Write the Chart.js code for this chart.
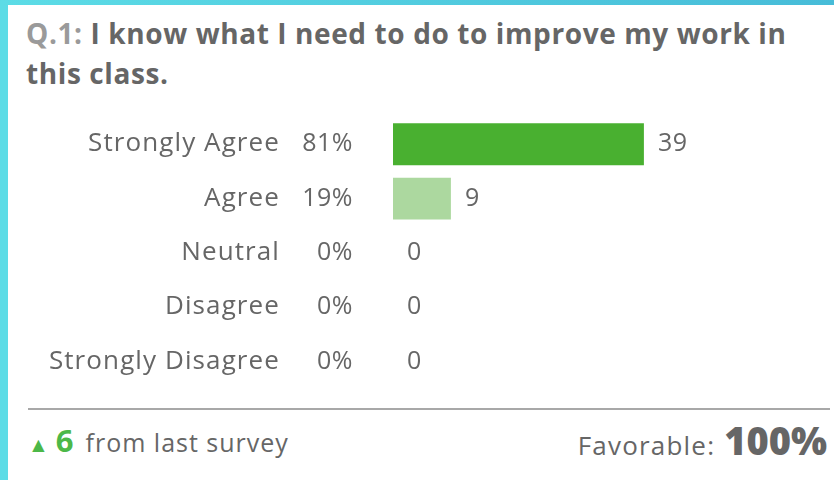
<!DOCTYPE html>
<html>
<head>
<meta charset="utf-8">
<script src="https://cdn.jsdelivr.net/npm/chart.js@4.4.1/dist/chart.umd.min.js"></script>
<style>
    html, body {
        margin: 0;
        padding: 0;
    }
    body {
        width: 834px;
        height: 480px;
        position: relative;
        overflow: hidden;
        background: #fff;
        font-family: "Open Sans", Lato, sans-serif;
    }
    .edge-left {
        position: absolute;
        left: 0; top: 0;
        width: 8px; height: 480px;
        background: #5cdce6;
    }
    .edge-top {
        position: absolute;
        left: 0; top: 0;
        width: 834px; height: 5px;
        background: linear-gradient(to right, #5cdce6, #47bcd8);
    }
    .title {
        position: absolute;
        left: 26px; top: 13px;
        white-space: nowrap;
        font-size: 28px;
        line-height: 40px;
        font-weight: 700;
        color: #666;
        letter-spacing: 0.6px;
    }
    .title .qnum {
        color: #9a9a9a;
    }
    #chartBox {
        position: absolute;
        left: 0; top: 110px;
        width: 834px; height: 290px;
    }
    .divider {
        position: absolute;
        left: 28px; top: 408px;
        width: 802px; height: 2px;
        background: #a8a8a8;
    }
    .footer {
        position: absolute;
        top: 420px;
        display: flex;
        align-items: baseline;
        color: #666;
        font-size: 25px;
        line-height: 40px;
        letter-spacing: 1px;
        white-space: nowrap;
    }
    .footer.left { left: 28px; }
    .footer.right { right: 7px; }
    .up {
        color: #4cb848;
        font-size: 21px;
        margin-right: 6px;
    }
    .delta {
        color: #4cb848;
        font-weight: 700;
        font-size: 31px;
        margin-right: 11px;
    }
    .fav {
        font-size: 26px;
        letter-spacing: 1.2px;
    }
    .score {
        font-weight: 800;
        font-size: 38px;
        margin-left: 9px;
        color: #666;
        letter-spacing: 0;
    }
</style>
</head>
<body>
<div class="edge-left"></div>
<div class="edge-top"></div>

<div class="title"><span class="qnum">Q.1:</span> I know what I need to do to improve my work in<br>this class.</div>

<div id="chartBox"><canvas id="responseChart"></canvas></div>

<div class="divider"></div>
<div class="footer left"><span class="up">▲</span><span class="delta">6</span><span>from last survey</span></div>
<div class="footer right"><span class="fav">Favorable:</span><span class="score">100%</span></div>

<script>
const categories = ['Strongly Agree', 'Agree', 'Neutral', 'Disagree', 'Strongly Disagree'];
const counts = [39, 9, 0, 0, 0];
const percents = [81, 19, 0, 0, 0];

// label columns: answer text, share, and the count right after each bar
const rowLabels = {
    id: 'rowLabels',
    afterDatasetsDraw(chart) {
        const ctx = chart.ctx;
        const meta = chart.getDatasetMeta(0);
        ctx.save();
        ctx.fillStyle = '#666';
        ctx.textBaseline = 'alphabetic';
        meta.data.forEach((bar, i) => {
            const y = bar.y + 7;
            ctx.font = '26px "Open Sans", Lato, sans-serif';
            ctx.letterSpacing = '1.1px';
            ctx.textAlign = 'right';
            ctx.fillText(categories[i], 280, y);
            ctx.font = '25px "Open Sans", Lato, sans-serif';
            ctx.letterSpacing = '0.5px';
            ctx.fillText(percents[i] + '%', 353, y);
            ctx.textAlign = 'left';
            ctx.fillText(String(counts[i]), bar.x + 14, y);
        });
        ctx.restore();
    }
};

const ctx = document.getElementById('responseChart').getContext('2d');
const responseChart = new Chart(ctx, {
    type: 'bar',
    data: {
        labels: categories,
        datasets: [{
            data: counts,
            backgroundColor: ['#49b030', '#acd89f', '#acd89f', '#acd89f', '#acd89f'],
            borderWidth: 0,
            categoryPercentage: 1,
            barPercentage: 0.77
        }]
    },
    options: {
        indexAxis: 'y',
        responsive: true,
        maintainAspectRatio: false,
        animation: false,
        layout: {
            padding: { left: 393, right: 55, top: 7, bottom: 11 }
        },
        scales: {
            x: { display: false, min: 0, max: 60 },
            y: { display: false }
        },
        plugins: {
            legend: { display: false },
            tooltip: { enabled: false }
        }
    },
    plugins: [rowLabels]
});
</script>
</body>
</html>
